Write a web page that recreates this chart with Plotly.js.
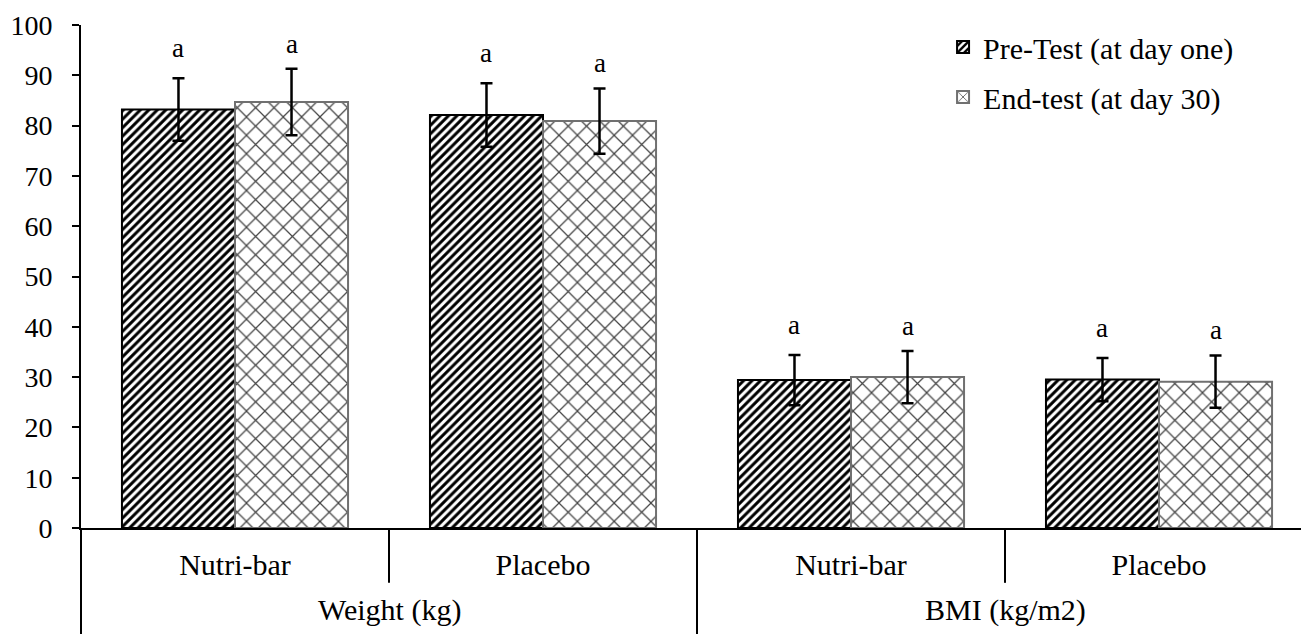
<!DOCTYPE html>
<html>
<head>
<meta charset="utf-8">
<script src="https://cdn.plot.ly/plotly-3.0.1.min.js"></script>
<style>html,body{margin:0;padding:0;background:#fff;}#chart{width:1301px;height:634px;}</style>
</head>
<body>
<div id="chart"></div>
<script>
// ---- data ----
var groups = ['Weight (kg)', 'BMI (kg/m2)'];
var categories = ['Nutri-bar', 'Placebo', 'Nutri-bar', 'Placebo'];
var categoryGroup = [0, 0, 1, 1];
var seriesNames = ['Pre-Test (at day one)', 'End-test (at day 30)'];
var preValues = [83.2, 82.1, 29.4, 29.5];
var preErrors = [6.2, 6.3, 5.0, 4.3];
var endValues = [84.7, 80.9, 30.0, 29.1];
var endErrors = [6.6, 6.5, 5.2, 5.2];
var preLetters = ['a', 'a', 'a', 'a'];
var endLetters = ['a', 'a', 'a', 'a'];
var yTicks = [0, 10, 20, 30, 40, 50, 60, 70, 80, 90, 100];

// ---- build ----
var keys = categories.map(function (c, i) { return groups[categoryGroup[i]] + '|' + c; });
var serif = '"Liberation Serif", "Times New Roman", serif';
var bargap = 0.266;

var pre = {
  type: 'bar', name: seriesNames[0], x: keys, y: preValues,
  legendgroup: 'g1',
  marker: {
    color: '#ffffff',
    line: {color: '#000000', width: 2},
    pattern: {shape: '/', fgcolor: '#000000', bgcolor: '#ffffff', size: 6, solidity: 0.5}
  },
  error_y: {type: 'data', array: preErrors, visible: true, color: '#000000', thickness: 2.5, width: 6}
};
var end = {
  type: 'bar', name: seriesNames[1], x: keys, y: endValues,
  legendgroup: 'g2',
  marker: {
    color: '#ffffff',
    line: {color: '#707070', width: 2},
    pattern: {shape: 'x', fgcolor: '#444444', bgcolor: '#ffffff', size: 13, solidity: 0.18}
  },
  error_y: {type: 'data', array: endErrors, visible: true, color: '#000000', thickness: 2.5, width: 6}
};

var half = (1 - bargap) / 4;
var annotations = [];
keys.forEach(function (k, i) {
  annotations.push({x: i - half, y: preValues[i] + preErrors[i], xref: 'x', yref: 'y', text: preLetters[i],
    showarrow: false, yanchor: 'bottom', yshift: 13, font: {family: serif, size: 27, color: '#000'}});
  annotations.push({x: i + half, y: endValues[i] + endErrors[i], xref: 'x', yref: 'y', text: endLetters[i],
    showarrow: false, yanchor: 'bottom', yshift: 8, font: {family: serif, size: 27, color: '#000'}});
});
groups.forEach(function (g, gi) {
  var idx = categoryGroup.map(function (v, i) { return v === gi ? i : -1; }).filter(function (v) { return v >= 0; });
  var mid = (idx[0] + idx[idx.length - 1]) / 2;
  annotations.push({x: mid, y: -0.163, xref: 'x', yref: 'paper', text: g, showarrow: false,
    yanchor: 'middle', font: {family: serif, size: 30, color: '#000'}});
});

var shapes = [
  {type: 'line', xref: 'paper', yref: 'paper', x0: 0, x1: 0, y0: 0, y1: -0.25, line: {color: '#000', width: 2}},
  {type: 'line', xref: 'x', yref: 'paper', x0: 0.5, x1: 0.5, y0: 0, y1: -0.109, line: {color: '#000', width: 2}},
  {type: 'line', xref: 'x', yref: 'paper', x0: 1.5, x1: 1.5, y0: 0, y1: -0.25, line: {color: '#000', width: 2}},
  {type: 'line', xref: 'x', yref: 'paper', x0: 2.5, x1: 2.5, y0: 0, y1: -0.109, line: {color: '#000', width: 2}}
];

var layout = {
  width: 1301, height: 634,
  margin: {l: 81, r: 0, t: 25, b: 106, pad: 0},
  paper_bgcolor: '#ffffff', plot_bgcolor: '#ffffff',
  barmode: 'group', bargap: bargap, bargroupgap: 0,
  showlegend: true,
  legend: {x: 0.7066, y: 1.008, xanchor: 'left', yanchor: 'top', traceorder: 'grouped', tracegroupgap: 8,
    font: {family: serif, size: 30, color: '#000'}, bgcolor: 'rgba(0,0,0,0)'},
  xaxis: {
    type: 'category', categoryorder: 'array', categoryarray: keys,
    tickvals: keys, ticktext: categories,
    range: [-0.5, 3.461], showline: true, linecolor: '#000', linewidth: 2,
    ticks: '', showgrid: false, zeroline: false, automargin: false,
    ticklabelstandoff: 9,
    tickfont: {family: serif, size: 30, color: '#000'}
  },
  yaxis: {
    range: [0, 100], tickvals: yTicks, showline: true, linecolor: '#000', linewidth: 2,
    ticks: 'outside', ticklen: 7, tickwidth: 2, tickcolor: '#000',
    showgrid: false, zeroline: false, automargin: false, ticklabelstandoff: 14,
    tickfont: {family: serif, size: 28, color: '#000'}
  },
  annotations: annotations,
  shapes: shapes
};

Plotly.newPlot('chart', [pre, end], layout, {staticPlot: true, displayModeBar: false});
</script>
</body>
</html>
